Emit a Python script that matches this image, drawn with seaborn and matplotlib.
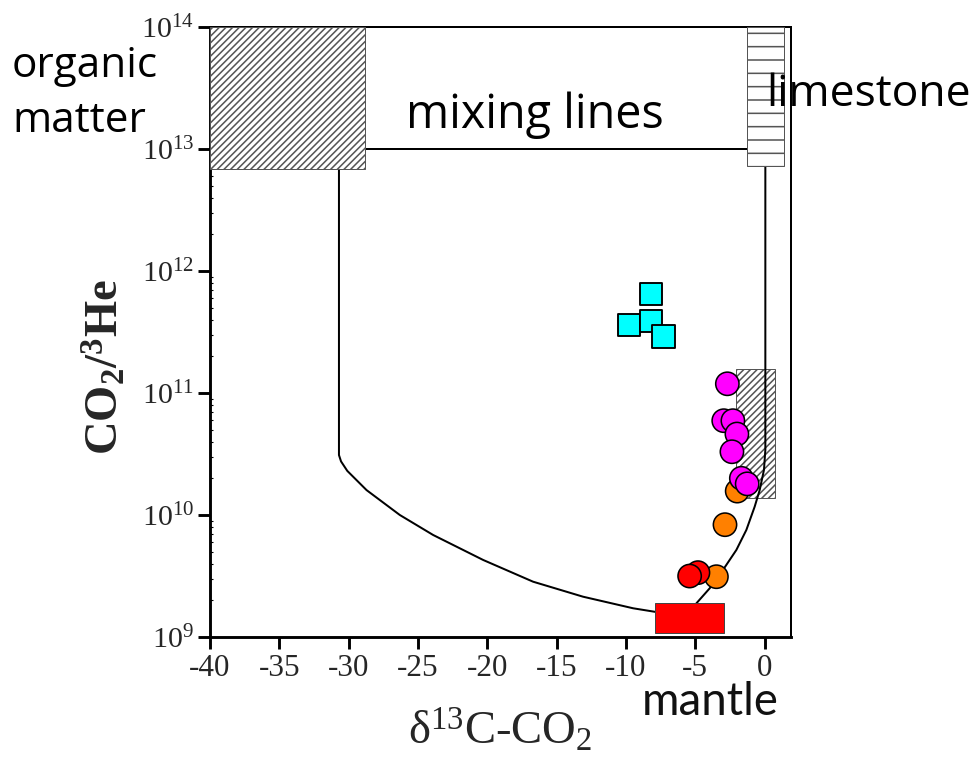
import matplotlib
matplotlib.use("Agg")
import matplotlib.pyplot as plt
from matplotlib.patches import Rectangle
import numpy as np
import pandas as pd
import seaborn as sns

# ---- sample data (delta13C of CO2, CO2/3He) ----
cyan_x = [-8.18, -9.79, -8.18, -7.29]
cyan_y = [6.46e11, 3.62e11, 3.91e11, 2.90e11]

orange_x = [-1.98, -2.86, -3.48]
orange_y = [1.57e10, 8.33e9, 3.12e9]

red_x = [-4.81, -5.41]
red_y = [3.37e9, 3.16e9]

magenta_x = [-2.69, -2.95, -2.29, -2.00, -2.36, -1.68, -1.26]
magenta_y = [1.19e11, 5.93e10, 5.93e10, 4.61e10, 3.30e10, 2.00e10, 1.80e10]

# ---- mixing curves between end-members ----
org_mix_x = [-30.7, -30.7, -30.55, -30.1, -28.71, -26.31, -23.91, -20.30, -16.70, -13.10, -9.49, -7.93, -6.0]
org_mix_y = [7.0e12, 3.1e10, 2.75e10, 2.3e10, 1.60e10, 1.0e10, 6.86e9, 4.28e9, 2.84e9, 2.14e9, 1.72e9, 1.61e9, 1.5e9]

lim_mix_x = [0.05, 0.05, -0.05, -0.36, -0.72, -1.32, -2.04, -3.01, -3.96, -4.92, -5.5]
lim_mix_y = [7.3e12, 3.41e10, 2.34e10, 1.60e10, 1.17e10, 7.54e9, 5.17e9, 3.54e9, 2.51e9, 1.89e9, 1.5e9]

top_mix_x = [-28.8, -1.3]
top_mix_y = [1.0e13, 1.0e13]

# ---- end-member fields: (x0, x1, y0, y1) ----
organic_box = (-40.0, -28.8, 6.8e12, 1.0e14)
limestone_box = (-1.3, 1.4, 7.3e12, 1.0e14)
crust_box = (-2.04, 0.77, 1.39e10, 1.56e11)
mantle_box = (-7.93, -2.96, 1.08e9, 1.9e9)

x_ticks = [-40, -35, -30, -25, -20, -15, -10, -5, 0]
y_ticks = [1e9, 1e10, 1e11, 1e12, 1e13, 1e14]
y_tick_labels = [r"$10^{9}$", r"$10^{10}$", r"$10^{11}$", r"$10^{12}$", r"$10^{13}$", r"$10^{14}$"]

sns.set_theme(style="white")
plt.rcParams["font.family"] = ["Liberation Serif", "DejaVu Serif"]
plt.rcParams["mathtext.fontset"] = "custom"
plt.rcParams["mathtext.rm"] = "Liberation Serif"
plt.rcParams["mathtext.it"] = "Liberation Serif:italic"
plt.rcParams["mathtext.bf"] = "Liberation Serif:bold"
plt.rcParams["axes.unicode_minus"] = False
plt.rcParams["hatch.linewidth"] = 1.4
plt.rcParams["hatch.color"] = "black"

DPI = 80
W, H = 976, 778
fig = plt.figure(figsize=(W / DPI, H / DPI), dpi=DPI)
ax = fig.add_axes([210 / W, 1 - 637 / H, 581 / W, 610 / H])
ax.set_yscale("log")

# end-member boxes
def add_box(b, **kw):
    x0, x1, y0, y1 = b
    ax.add_patch(Rectangle((x0, y0), x1 - x0, y1 - y0, clip_on=False, **kw))

add_box(organic_box, facecolor="white", edgecolor="#555555", lw=0.9, hatch="////", zorder=3)
add_box(limestone_box, facecolor="white", edgecolor="#555555", lw=0.9, hatch="-", zorder=3)
add_box(crust_box, facecolor="none", edgecolor="#555555", lw=0.9, hatch="////", zorder=2)
add_box(mantle_box, facecolor="#ff0000", edgecolor="#444444", lw=0.9, zorder=5)

# mixing lines
for xs, ys in [(org_mix_x, org_mix_y), (lim_mix_x, lim_mix_y), (top_mix_x, top_mix_y)]:
    sns.lineplot(x=xs, y=ys, ax=ax, sort=False, estimator=None, color="black",
                 lw=1.8, zorder=2.6)

# samples
df = pd.DataFrame({
    "d13C": cyan_x + orange_x + red_x + magenta_x,
    "ratio": cyan_y + orange_y + red_y + magenta_y,
    "group": (["cyan"] * len(cyan_x) + ["orange"] * len(orange_x)
              + ["red"] * len(red_x) + ["magenta"] * len(magenta_x)),
})
palette = {"cyan": "#00ffff", "orange": "#ff8000", "red": "#ff0000", "magenta": "#ff00ff"}
sq = df[df.group == "cyan"]
circ = df[df.group != "cyan"]
sns.scatterplot(data=sq, x="d13C", y="ratio", hue="group", palette=palette, marker="s",
                s=400, edgecolor="black", linewidth=1.7, legend=False, ax=ax, zorder=6)
sns.scatterplot(data=circ, x="d13C", y="ratio", hue="group", palette=palette, marker="o",
                s=440, edgecolor="black", linewidth=1.4, legend=False, ax=ax, zorder=6)

ax.set_xlim(-40, 1.9)
ax.set_ylim(1e9, 1e14)
ax.set_xticks(x_ticks)
ax.set_xticklabels([str(t) for t in x_ticks])
ax.set_yticks(y_ticks)
ax.set_yticklabels(y_tick_labels)
ax.yaxis.set_minor_locator(matplotlib.ticker.LogLocator(base=10, subs=np.arange(2, 10)))
ax.yaxis.set_minor_formatter(matplotlib.ticker.NullFormatter())
ax.grid(False)

ax.tick_params(axis="x", which="major", direction="out", length=10.5, width=2.6,
               labelsize=28, pad=5, color="black", bottom=True)
ax.tick_params(axis="y", which="major", direction="out", length=10.5, width=2.6,
               labelsize=27, pad=4, color="black", left=True)
ax.tick_params(axis="y", which="minor", direction="in", length=2.5, width=1.0,
               color="black", left=True)

for side, w in [("left", 2.6), ("bottom", 2.6), ("top", 1.8), ("right", 1.8)]:
    ax.spines[side].set_visible(True)
    ax.spines[side].set_color("black")
    ax.spines[side].set_linewidth(w)

ax.set_xlabel("δ$^{13}$C-CO$_2$", fontsize=42)
ax.xaxis.set_label_coords(0.5, -0.115)
ax.set_ylabel(r"CO$_\mathbf{2}$/$^\mathbf{3}$He", fontsize=42, fontweight="bold")
ax.yaxis.set_label_coords(-0.14, 0.443)

# field annotations
def ptext(x, y, s, **kw):
    fig.text(x / W, 1 - y / H, s, ha="left", va="baseline", **kw)

ptext(12, 77, "organic", family="Open Sans", fontsize=38, color="black")
ptext(12, 132, "matter", family="Open Sans", fontsize=38, color="black")
ptext(406, 128, "mixing lines", family="Open Sans", fontsize=42, color="black")
ptext(766, 106, "limestone", family="Open Sans", fontsize=40, color="black")
ptext(642, 715, "mantle", family="Lato", fontsize=41, color="#111111")

fig.savefig("out.png", dpi=DPI)
